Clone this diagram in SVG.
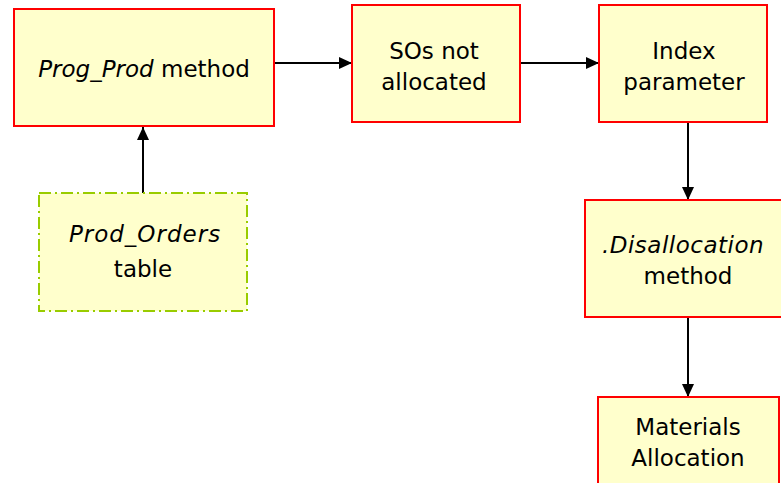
<svg xmlns="http://www.w3.org/2000/svg" width="781" height="483" viewBox="0 0 781 483">
  <style>
    .box { fill: #ffffcc; stroke: #ff0000; stroke-width: 2; }
    .tbl { fill: #ffffcc; stroke: #99cc00; stroke-width: 2; stroke-dasharray: 12 4 2 4; }
    .lbl { font-family: "DejaVu Sans", Verdana, sans-serif; font-size: 23px; fill: #000; text-anchor: middle; }
    .it { font-style: italic; }
    .edge { stroke: #000; stroke-width: 2; fill: none; marker-end: url(#arrow); }
  </style>
  <defs>
    <marker id="arrow" markerWidth="14" markerHeight="14" refX="13" refY="7" orient="auto" markerUnits="userSpaceOnUse">
      <path d="M0,1 L13,7 L0,13 Z" fill="#000"/>
    </marker>
  </defs>
  <rect width="781" height="483" fill="#ffffff"/>

  <g id="connectors">
    <line class="edge" x1="274" y1="63" x2="352" y2="63"/>
    <line class="edge" x1="520" y1="63" x2="599" y2="63"/>
    <line class="edge" x1="143" y1="193" x2="143" y2="127"/>
    <line class="edge" x1="688" y1="122" x2="688" y2="200"/>
    <line class="edge" x1="688" y1="317" x2="688" y2="397"/>
  </g>

  <g id="prog-prod">
    <rect class="box" x="14" y="9" width="260" height="117"/>
    <text class="lbl" x="144" y="77"><tspan class="it">Prog_Prod</tspan> method</text>
  </g>

  <g id="sos-not-allocated">
    <rect class="box" x="352" y="5" width="168" height="117"/>
    <text class="lbl" x="434" y="59">SOs not</text>
    <text class="lbl" x="434" y="90">allocated</text>
  </g>

  <g id="index-parameter">
    <rect class="box" x="599" y="5" width="168" height="117"/>
    <text class="lbl" x="684" y="59">Index</text>
    <text class="lbl" x="684" y="90">parameter</text>
  </g>

  <g id="prod-orders">
    <rect class="tbl" x="39" y="193" width="208" height="118"/>
    <text class="lbl it" x="145" y="242" letter-spacing="1">Prod_Orders</text>
    <text class="lbl" x="143" y="277">table</text>
  </g>

  <g id="disallocation">
    <rect class="box" x="585" y="200" width="200" height="117"/>
    <text class="lbl it" x="683" y="253" letter-spacing="0.5">.Disallocation</text>
    <text class="lbl" x="688" y="284">method</text>
  </g>

  <g id="materials-allocation">
    <rect class="box" x="598" y="397" width="181" height="100"/>
    <text class="lbl" x="688" y="435">Materials</text>
    <text class="lbl" x="688" y="466">Allocation</text>
  </g>
</svg>
